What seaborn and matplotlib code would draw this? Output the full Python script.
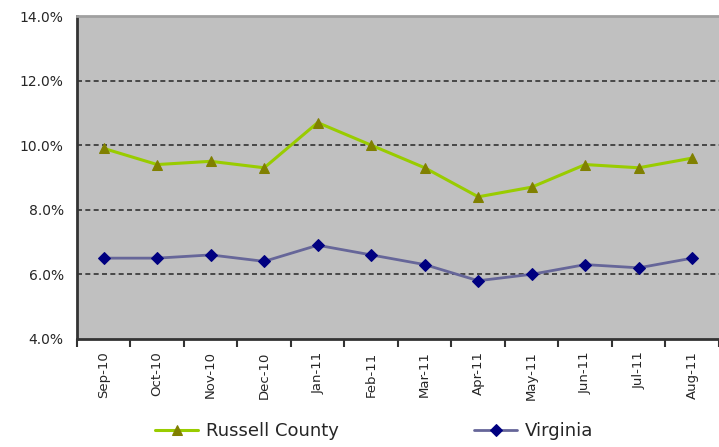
import pandas as pd
import matplotlib.pyplot as plt
import seaborn as sns
from matplotlib.ticker import FuncFormatter, FixedLocator

# Monthly unemployment rates
months = ['Sep-10', 'Oct-10', 'Nov-10', 'Dec-10', 'Jan-11', 'Feb-11',
          'Mar-11', 'Apr-11', 'May-11', 'Jun-11', 'Jul-11', 'Aug-11']
russell = [9.9, 9.4, 9.5, 9.3, 10.7, 10.0, 9.3, 8.4, 8.7, 9.4, 9.3, 9.6]
virginia = [6.5, 6.5, 6.6, 6.4, 6.9, 6.6, 6.3, 5.8, 6.0, 6.3, 6.2, 6.5]

data = pd.DataFrame({'Month': months, 'Russell County': russell, 'Virginia': virginia})

sns.set_style('white')
plt.rcParams['font.family'] = ['DejaVu Sans']

fig = plt.figure(figsize=(7.19, 4.47), dpi=100)
ax = fig.add_axes([0.107, 0.242, 0.893, 0.722])
ax.set_facecolor('#C0C0C0')

sns.lineplot(x='Month', y='Russell County', data=data, ax=ax, color='#99CC00',
             linewidth=2.2, marker='^', markersize=7, markerfacecolor='#808000',
             markeredgecolor='#808000', label='Russell County', sort=False)
sns.lineplot(x='Month', y='Virginia', data=data, ax=ax, color='#666699',
             linewidth=2, marker='D', markersize=6.5, markerfacecolor='#000080',
             markeredgecolor='#000080', label='Virginia', sort=False)

ax.set_ylim(4, 14)
ax.set_xlim(-0.5, len(months) - 0.5)
ax.set_yticks([4, 6, 8, 10, 12, 14])
ax.yaxis.set_major_formatter(FuncFormatter(lambda v, p: f'{v:.1f}%'))
for y in [6, 8, 10, 12]:
    ax.axhline(y, color='#333333', linestyle=(0, (3, 2)), linewidth=1.2, zorder=1)

ax.set_xticks(range(len(months)))
ax.set_xticklabels(months, rotation=90, fontsize=9.5)
ax.tick_params(axis='x', which='major', length=0, pad=9)
ax.xaxis.set_minor_locator(FixedLocator([i + 0.5 for i in range(-1, len(months))]))
ax.tick_params(axis='x', which='minor', length=6, width=1.5, color='#333333', direction='out')
ax.tick_params(axis='y', length=6, width=1.5, color='#333333', direction='out', labelsize=10)
ax.tick_params(bottom=True, which='minor')
ax.set_xlabel('')
ax.set_ylabel('')

for s in ['left', 'bottom']:
    ax.spines[s].set_color('#333333')
    ax.spines[s].set_linewidth(2)
ax.spines['top'].set_color('#A0A0A0')
ax.spines['top'].set_linewidth(2)
ax.spines['right'].set_visible(False)

handles, labels = ax.get_legend_handles_labels()
ax.get_legend().remove()
fig.legend(handles, labels, loc='center', bbox_to_anchor=(0.52, 0.035), ncol=2,
           frameon=False, fontsize=13, columnspacing=7.5, handlelength=2.4,
           handletextpad=0.4, borderaxespad=0, borderpad=0)

plt.savefig('out.png', dpi=100)
